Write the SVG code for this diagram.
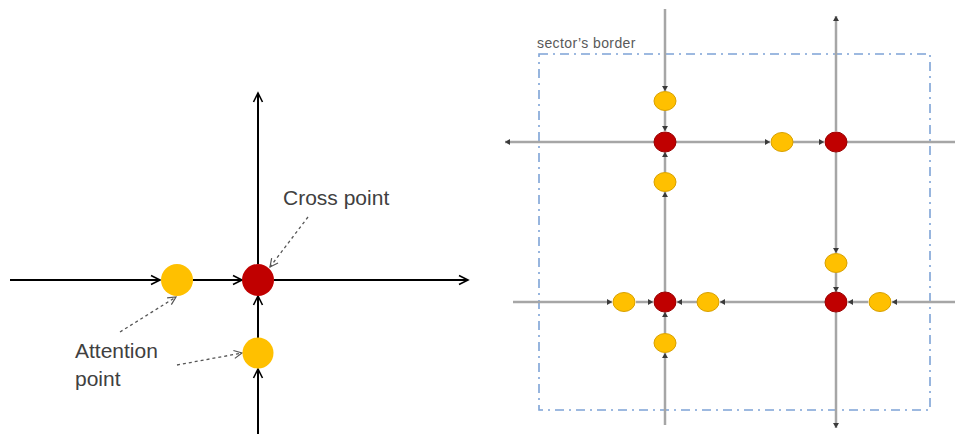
<svg xmlns="http://www.w3.org/2000/svg" width="955" height="434" viewBox="0 0 955 434">
<defs>
<marker id="chev" markerUnits="userSpaceOnUse" markerWidth="12" markerHeight="12" refX="9" refY="5" orient="auto" overflow="visible">
<path d="M0,0.5 L9,5 L0,9.5" fill="none" stroke="#000" stroke-width="1.6"/>
</marker>
<marker id="dchev" markerUnits="userSpaceOnUse" markerWidth="12" markerHeight="12" refX="8" refY="4.5" orient="auto" overflow="visible">
<path d="M0,0.5 L8,4.5 L0,8.5" fill="none" stroke="#555" stroke-width="1.2"/>
</marker>
<marker id="tri" markerUnits="userSpaceOnUse" markerWidth="8" markerHeight="8" refX="5" refY="3" orient="auto" overflow="visible">
<path d="M0,0 L5,3 L0,6 Z" fill="#3a3a3a"/>
</marker>
</defs>
<style>
.bl{stroke:#000;stroke-width:2;fill:none}
.gr{stroke:#a6a6a6;stroke-width:2.5;fill:none}
.ba{marker-end:url(#chev)}
.ga{marker-end:url(#tri)}
.dot{stroke:#555;stroke-width:1.3;stroke-dasharray:3 3;fill:none;marker-end:url(#dchev)}
.y{fill:#FFC000}
.r{fill:#C00000}
.ys{fill:#FFC000;stroke:#d8a000;stroke-width:1}
.rs{fill:#C00000;stroke:#9a0000;stroke-width:1}
.lbl{font-family:"Liberation Sans",Arial,sans-serif;font-size:21px;fill:#404040}
.sm{font-family:"Liberation Sans",Arial,sans-serif;font-size:14px;fill:#595959;letter-spacing:0.4px}
</style>

<g id="sector-border">
<rect x="539" y="54" width="391" height="356" fill="none" stroke="#7ea3d6" stroke-width="1.6" stroke-dasharray="9 5 2 5"/>
<text class="sm" x="537" y="48">sector’s border</text>
</g>

<g id="connectors">
<!-- left diagram -->
<line class="bl ba" x1="10" y1="280" x2="160" y2="280"/>
<line class="bl ba" x1="193" y1="280" x2="242" y2="280"/>
<line class="bl ba" x1="274" y1="280" x2="468" y2="280"/>
<line class="bl ba" x1="258" y1="434" x2="258" y2="369"/>
<line class="bl ba" x1="258" y1="338" x2="258" y2="296"/>
<line class="bl ba" x1="258" y1="264" x2="258" y2="93"/>
<line class="dot" x1="308" y1="217" x2="270" y2="267"/>
<line class="dot" x1="120" y1="332" x2="176" y2="297"/>
<line class="dot" x1="177" y1="365" x2="242" y2="353"/>
<!-- right diagram: top horizontal -->
<line class="gr ga" x1="654" y1="142" x2="505" y2="142"/>
<line class="gr ga" x1="676" y1="142" x2="770" y2="142"/>
<line class="gr ga" x1="793" y1="142" x2="824" y2="142"/>
<line class="gr" x1="847" y1="142" x2="955" y2="142"/>
<!-- vertical 1 -->
<line class="gr ga" x1="665" y1="9" x2="665" y2="91"/>
<line class="gr ga" x1="665" y1="110" x2="665" y2="131"/>
<line class="gr ga" x1="665" y1="292" x2="665" y2="192"/>
<line class="gr ga" x1="665" y1="172" x2="665" y2="152"/>
<line class="gr ga" x1="665" y1="425" x2="665" y2="353"/>
<line class="gr ga" x1="665" y1="333" x2="665" y2="312"/>
<!-- vertical 2 -->
<line class="gr ga" x1="836" y1="131" x2="836" y2="16"/>
<line class="gr ga" x1="836" y1="152" x2="836" y2="253"/>
<line class="gr ga" x1="836" y1="273" x2="836" y2="292"/>
<line class="gr ga" x1="836" y1="312" x2="836" y2="428"/>
<!-- bottom horizontal -->
<line class="gr ga" x1="513" y1="302" x2="612" y2="302"/>
<line class="gr ga" x1="636" y1="302" x2="653" y2="302"/>
<line class="gr ga" x1="697" y1="302" x2="677" y2="302"/>
<line class="gr ga" x1="825" y1="302" x2="720" y2="302"/>
<line class="gr ga" x1="868" y1="302" x2="848" y2="302"/>
<line class="gr ga" x1="955" y1="302" x2="892" y2="302"/>
</g>

<g id="left-attention-1"><circle class="y" cx="177" cy="280" r="16"/></g>
<g id="left-cross"><circle class="r" cx="258" cy="280" r="16"/></g>
<g id="left-attention-2"><circle class="y" cx="258" cy="353" r="15.5"/></g>
<g id="label-cross"><text class="lbl" x="283" y="205">Cross point</text></g>
<g id="label-attention"><text class="lbl" x="75" y="358">Attention</text><text class="lbl" x="75" y="386">point</text></g>

<g id="R1"><ellipse class="rs" cx="665" cy="142" rx="11" ry="10"/></g>
<g id="R2"><ellipse class="rs" cx="836" cy="142" rx="11" ry="10"/></g>
<g id="R3"><ellipse class="rs" cx="665" cy="302" rx="11" ry="10"/></g>
<g id="R4"><ellipse class="rs" cx="836" cy="302" rx="11" ry="10"/></g>
<g id="Y1"><ellipse class="ys" cx="665" cy="101" rx="11" ry="9.5"/></g>
<g id="Y2"><ellipse class="ys" cx="665" cy="182" rx="11" ry="9.5"/></g>
<g id="Y3"><ellipse class="ys" cx="782" cy="142" rx="11" ry="9.5"/></g>
<g id="Y4"><ellipse class="ys" cx="624" cy="302" rx="11" ry="9.5"/></g>
<g id="Y5"><ellipse class="ys" cx="708" cy="302" rx="11" ry="9.5"/></g>
<g id="Y6"><ellipse class="ys" cx="665" cy="343" rx="11" ry="9.5"/></g>
<g id="Y7"><ellipse class="ys" cx="836" cy="263" rx="11" ry="9.5"/></g>
<g id="Y8"><ellipse class="ys" cx="880" cy="302" rx="11" ry="9.5"/></g>
</svg>
